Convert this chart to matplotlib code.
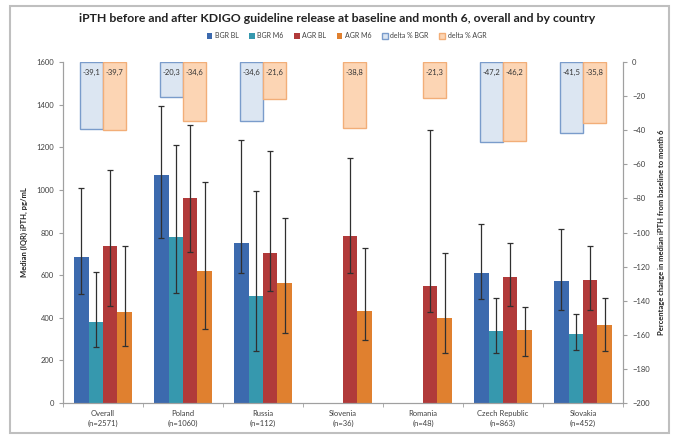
import matplotlib
matplotlib.use("Agg")
import matplotlib.pyplot as plt
import numpy as np
from matplotlib.patches import Patch, Rectangle

plt.rcParams['font.family'] = ['Lato', 'DejaVu Sans']

countries = ["Overall\n(n=2571)", "Poland\n(n=1060)", "Russia\n(n=112)", "Slovenia\n(n=36)",
             "Romania\n(n=48)", "Czech Republic\n(n=863)", "Slovakia\n(n=452)"]

nan = np.nan
# medians (pg/mL)
bgr_bl = [684, 1071, 750, nan, nan, 608, 571]
bgr_m6 = [378, 778, 502, nan, nan, 339, 323]
agr_bl = [737, 964, 706, 785, 550, 589, 577]
agr_m6 = [429, 620, 563, 431, 398, 344, 365]

# IQR lower / upper
bgr_bl_q1 = [510, 774, 608, nan, nan, 488, 438]
bgr_bl_q3 = [1008, 1393, 1236, nan, nan, 841, 816]
bgr_m6_q1 = [261, 515, 246, nan, nan, 233, 250]
bgr_m6_q3 = [614, 1210, 997, nan, nan, 494, 418]
agr_bl_q1 = [454, 708, 527, 611, 426, 454, 435]
agr_bl_q3 = [1092, 1305, 1183, 1151, 1283, 753, 739]
agr_m6_q1 = [267, 347, 330, 295, 233, 222, 243]
agr_m6_q3 = [737, 1036, 868, 725, 704, 451, 491]

# percentage change baseline -> month 6
delta_bgr = [-39.1, -20.3, -34.6, nan, nan, -47.2, -41.5]
delta_agr = [-39.7, -34.6, -21.6, -38.8, -21.3, -46.2, -35.8]

c_bgr_bl = "#3C6AAE"
c_bgr_m6 = "#3698AE"
c_agr_bl = "#B13A3A"
c_agr_m6 = "#E0802F"
c_dbgr_face, c_dbgr_edge = "#DCE6F2", "#7A9CCB"
c_dagr_face, c_dagr_edge = "#FCD5B4", "#F2AE78"
txt = "#404040"
spine = "#A0A0A0"

fig = plt.figure(figsize=(6.74, 4.37), dpi=100)
ax = fig.add_axes([63 / 674, 1 - 403 / 437, 560 / 674, 341 / 437])
ax2 = ax.twinx()

x = np.arange(len(countries))
w = 0.18
series = [(bgr_bl, bgr_bl_q1, bgr_bl_q3, c_bgr_bl),
          (bgr_m6, bgr_m6_q1, bgr_m6_q3, c_bgr_m6),
          (agr_bl, agr_bl_q1, agr_bl_q3, c_agr_bl),
          (agr_m6, agr_m6_q1, agr_m6_q3, c_agr_m6)]
for i, (med, q1, q3, col) in enumerate(series):
    med = np.array(med, float)
    lo = med - np.array(q1, float)
    hi = np.array(q3, float) - med
    xs = x + (i - 1.5) * w
    ax.bar(xs, med, w, color=col, zorder=2)
    ax.errorbar(xs, med, yerr=[lo, hi], fmt="none", ecolor="#303030",
                elinewidth=0.9, capsize=2, capthick=0.9, zorder=3)

dw = 0.29
for i, (vals, fc, ec) in enumerate([(delta_bgr, c_dbgr_face, c_dbgr_edge),
                                   (delta_agr, c_dagr_face, c_dagr_edge)]):
    xs = x + (i - 0.5) * dw
    ax2.bar(xs, vals, dw, facecolor=fc, edgecolor=ec, linewidth=1.0, zorder=2)
    for xv, v in zip(xs, vals):
        if not np.isnan(v):
            ax2.text(xv, -4, f"{v:.1f}".replace(".", ","), ha="center", va="top",
                     fontsize=5.5, color="#333333")

ax.set_xlim(-0.5, len(countries) - 0.5)
ax.set_ylim(0, 1600)
ax.set_yticks(np.arange(0, 1601, 200))
ax2.set_ylim(-200, 0)
ax2.set_yticks(np.arange(-200, 1, 20))

ax.set_xticks(x)
ax.set_xticklabels(countries, fontsize=5.5, color=txt, linespacing=1.5)
ax.set_xticks(np.arange(-0.5, len(countries), 1), minor=True)
ax.tick_params(axis="x", which="major", length=0, pad=5)
ax.tick_params(axis="x", which="minor", length=3, color=spine)
for a in (ax, ax2):
    a.tick_params(axis="y", labelsize=5.5, labelcolor=txt, length=3, color=spine)
    for s in a.spines.values():
        s.set_color(spine)
    a.spines["top"].set_visible(False)

ax.set_ylabel("Median (IQR) iPTH, pg/mL", fontsize=5.5, fontweight="bold", color="#222222", labelpad=6)
ax2.set_ylabel("Percentage change in median iPTH from baseline to month 6", fontsize=5.5,
               fontweight="bold", color="#222222", labelpad=6)

fig.text(0.5, 1 - 18 / 437, "iPTH before and after KDIGO guideline release at baseline and month 6, overall and by country",
         ha="center", va="center", fontsize=8.8, fontweight="bold", color="#222222")

handles = [Patch(facecolor=c_bgr_bl, label="BGR BL"),
           Patch(facecolor=c_bgr_m6, label="BGR M6"),
           Patch(facecolor=c_agr_bl, label="AGR BL"),
           Patch(facecolor=c_agr_m6, label="AGR M6"),
           Patch(facecolor=c_dbgr_face, edgecolor=c_dbgr_edge, label="delta % BGR"),
           Patch(facecolor=c_dagr_face, edgecolor=c_dagr_edge, label="delta % AGR")]
fig.legend(handles=handles, loc="center", bbox_to_anchor=(0.514, 1 - 36 / 437), ncol=6,
           frameon=False, fontsize=5, handlelength=0.8, handleheight=0.8,
           handletextpad=0.4, columnspacing=1.5, labelcolor=txt)

fig.patches.append(Rectangle((10 / 674, 1 - 433 / 437), 659 / 674, 427 / 437,
                             transform=fig.transFigure, fill=False,
                             edgecolor="#BFBFBF", linewidth=1.5))

fig.savefig("out.png", dpi=100)
